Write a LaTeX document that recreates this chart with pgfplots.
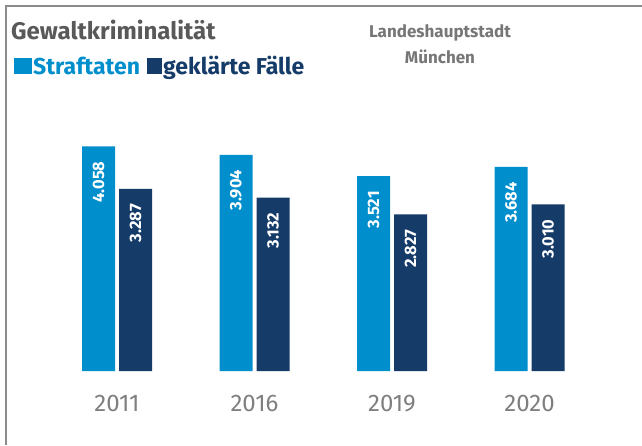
\documentclass[border=0pt]{standalone}
\usepackage{pgfplots}
\pgfplotsset{compat=1.18}
\usepackage{fontspec}
\setmainfont{Fira Sans}
\definecolor{hell}{HTML}{008ECC}
\definecolor{dunkel}{HTML}{153B69}
\definecolor{titel}{HTML}{595959}
\definecolor{grau}{HTML}{767676}
\definecolor{jahr}{HTML}{7F7F7F}
\definecolor{rahmen}{HTML}{8C8C8C}
\begin{document}
\begin{tikzpicture}
  \path[use as bounding box] (0,0) rectangle (642pt,445pt);
  \draw[rahmen, line width=2pt] (6pt,0) -- (6pt,439pt) -- (642pt,439pt);

  % Titel und Legende
  \node[anchor=base west, inner sep=0, text=titel, font=\bfseries\fontsize{24}{28}\selectfont]
    at (11pt,405pt) {Gewaltkriminalität};
  \fill[hell] (14pt,371pt) rectangle (32pt,387pt);
  \node[anchor=base west, inner sep=0, text=hell, font=\bfseries\fontsize{23}{28}\selectfont]
    at (33pt,370pt) {Straftaten};
  \fill[dunkel] (147pt,371pt) rectangle (162pt,387pt);
  \node[anchor=base west, inner sep=0, text=dunkel, font=\bfseries\fontsize{23}{28}\selectfont]
    at (163pt,370pt) {geklärte Fälle};
  \node[anchor=base, inner sep=0, text=grau, font=\bfseries\fontsize{17}{20}\selectfont]
    at (440pt,407pt) {Landeshauptstadt};
  \node[anchor=base, inner sep=0, text=grau, font=\bfseries\fontsize{17}{20}\selectfont]
    at (440pt,381pt) {München};

  \begin{axis}[
      at={(48.25pt,74pt)},
      anchor=south west,
      scale only axis,
      width=550pt,
      height=249.2pt,
      xmin=-0.5, xmax=3.5,
      ymin=0, ymax=4500,
      axis line style={draw=none},
      ytick=\empty,
      xtick=data,
      xticklabels={2011,2016,2019,2020},
      major tick length=0pt,
      xticklabel style={text=jahr, font=\fontsize{24}{26}\selectfont, yshift=-21pt},
      ybar=4pt,
      bar width=33pt,
      clip=false,
      nodes near coords,
      /pgf/number format/.cd, 1000 sep={.}, assume math mode=true,
      /pgfplots/.cd,
      every node near coord/.append style={
          rotate=90, anchor=east, inner xsep=15pt,
          text=white, font=\bfseries\fontsize{16.5}{18}\selectfont
      }
  ]

  % Straftaten
  \addplot[draw=none, fill=hell] coordinates {
  (0, 4058) (1, 3904) (2, 3521) (3, 3684)
  };

  % geklaerte Faelle
  \addplot[draw=none, fill=dunkel] coordinates {
  (0, 3287) (1, 3132) (2, 2827) (3, 3010)
  };

  \end{axis}
\end{tikzpicture}
\end{document}
